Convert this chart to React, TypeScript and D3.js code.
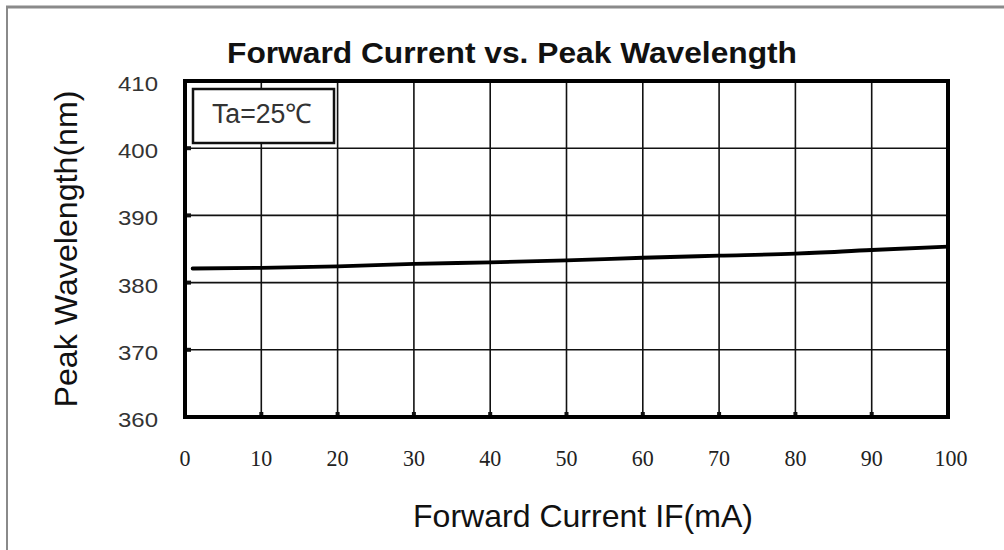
import React from "react";
import * as d3 from "d3";

const currents = [1, 10, 20, 30, 40, 50, 60, 70, 80, 90, 100];
const wavelengths = [382.1, 382.2, 382.4, 382.8, 383.0, 383.3, 383.7, 384.0, 384.3, 384.85, 385.35];
const xTicks = [0, 10, 20, 30, 40, 50, 60, 70, 80, 90, 100];
const yTicks = [360, 370, 380, 390, 400, 410];

const W = 1004;
const H = 550;
const plot = { left: 185, right: 948, top: 81, bottom: 417 };
const SANS = "Liberation Sans, Arial, sans-serif";

export default function App() {
  const x = d3.scaleLinear().domain([0, 100]).range([plot.left, plot.right]);
  const y = d3.scaleLinear().domain([360, 410]).range([plot.bottom, plot.top]);
  const line = d3
    .line<number>()
    .x((_, i) => x(currents[i]))
    .y((d) => y(d))
    .curve(d3.curveMonotoneX);

  return (
    <svg
      width={W}
      height={H}
      style={{ position: "absolute", left: 0, top: 0, background: "#fff" }}
    >
      <rect x={0} y={0} width={W} height={H} fill="#fff" />
      {/* outer frame */}
      <line x1={6} x2={W} y1={7} y2={7} stroke="#8a8a8a" strokeWidth={3} />
      <line x1={7} x2={7} y1={6} y2={H} stroke="#8a8a8a" strokeWidth={2} />

      {/* title */}
      <text
        x={512}
        y={63}
        textAnchor="middle"
        fontFamily={SANS}
        fontWeight="bold"
        fontSize={30}
        textLength={570}
        lengthAdjust="spacingAndGlyphs"
        fill="#111"
      >
        Forward Current vs. Peak Wavelength
      </text>

      {/* grid */}
      {xTicks.slice(1, -1).map((t) => (
        <line key={"gx" + t} x1={x(t)} x2={x(t)} y1={plot.top} y2={plot.bottom} stroke="#111" strokeWidth={1.6} />
      ))}
      {yTicks.slice(1, -1).map((t) => (
        <line key={"gy" + t} x1={plot.left} x2={plot.right} y1={y(t)} y2={y(t)} stroke="#111" strokeWidth={1.6} />
      ))}
      {/* small ticks */}
      {xTicks.slice(1, -1).map((t) => (
        <rect key={"tx" + t} x={x(t) - 2} y={plot.bottom - 5} width={4} height={5} fill="#111" />
      ))}
      {yTicks.slice(1, -1).map((t) => (
        <rect key={"ty" + t} x={plot.left} y={y(t) - 2} width={6} height={4} fill="#111" />
      ))}

      {/* plot border */}
      <rect
        x={plot.left}
        y={plot.top}
        width={plot.right - plot.left}
        height={plot.bottom - plot.top}
        fill="none"
        stroke="#000"
        strokeWidth={4}
      />

      {/* data line */}
      <path d={line(wavelengths) || ""} fill="none" stroke="#000" strokeWidth={3.8} strokeLinecap="round" />

      {/* Ta box */}
      <rect x={193} y={89} width={141} height={54} fill="#fff" stroke="#111" strokeWidth={2.5} />
      <text
        x={262}
        y={123}
        textAnchor="middle"
        fontFamily={SANS}
        fontSize={27}
        textLength={100}
        lengthAdjust="spacingAndGlyphs"
        fill="#333"
      >
        Ta=25℃
      </text>

      {/* y tick labels */}
      {yTicks.map((t) => (
        <text
          key={"yl" + t}
          x={158}
          y={y(t) + 10}
          textAnchor="end"
          fontFamily={SANS}
          fontSize={20}
          textLength={40}
          lengthAdjust="spacingAndGlyphs"
          fill="#333"
        >
          {t}
        </text>
      ))}

      {/* x tick labels */}
      {xTicks.map((t) => (
        <text
          key={"xl" + t}
          x={x(t) + (t === 100 ? 3 : 0)}
          y={466}
          textAnchor="middle"
          fontFamily="Liberation Serif, Times New Roman, serif"
          fontSize={23}
          textLength={String(t).length * 11}
          lengthAdjust="spacingAndGlyphs"
          fill="#222"
        >
          {t}
        </text>
      ))}

      {/* axis titles */}
      <text
        x={583}
        y={527}
        textAnchor="middle"
        fontFamily={SANS}
        fontSize={32}
        textLength={340}
        lengthAdjust="spacingAndGlyphs"
        fill="#111"
      >
        Forward Current IF(mA)
      </text>
      <text
        transform={`translate(77, 249) rotate(-90)`}
        textAnchor="middle"
        fontFamily={SANS}
        fontSize={32}
        textLength={317}
        lengthAdjust="spacingAndGlyphs"
        fill="#111"
      >
        Peak Wavelength(nm)
      </text>
    </svg>
  );
}
